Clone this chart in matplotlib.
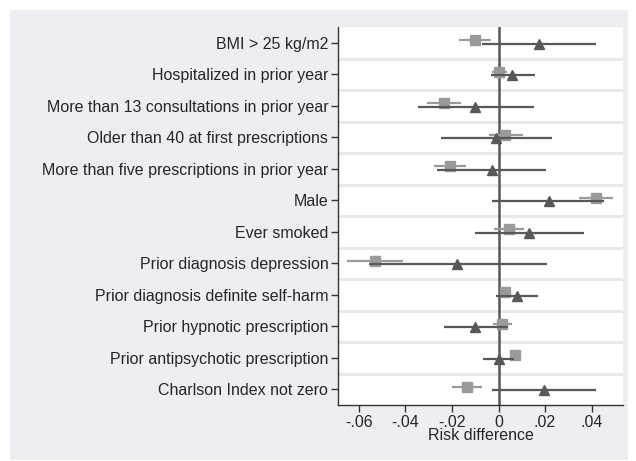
import numpy as np
from matplotlib import pyplot as plt
from matplotlib.patches import Rectangle

plt.rcParams['font.family'] = ['Liberation Sans', 'DejaVu Sans']

labels = ["BMI > 25 kg/m2",
          "Hospitalized in prior year",
          "More than 13 consultations in prior year",
          "Older than 40 at first prescriptions",
          "More than five prescriptions in prior year",
          "Male",
          "Ever smoked",
          "Prior diagnosis depression",
          "Prior diagnosis definite self-harm",
          "Prior hypnotic prescription",
          "Prior antipsychotic prescription",
          "Charlson Index not zero"]

# light grey squares
sq_est = [-0.010, 0.0004, -0.0235, 0.0029, -0.0209, 0.0419,
          0.0046, -0.0533, 0.0029, 0.0017, 0.0070, -0.0136]
sq_lo = [-0.0169, -0.0030, -0.0308, -0.0043, -0.0277, 0.0346,
         -0.0021, -0.0652, 0.0010, -0.0024, 0.0062, -0.0200]
sq_hi = [-0.0031, 0.0036, -0.0162, 0.0105, -0.0140, 0.0492,
         0.0110, -0.0411, 0.0050, 0.0058, 0.0078, -0.0071]

# dark grey triangles
tr_est = [0.0175, 0.0060, -0.0099, -0.0010, -0.0030, 0.0215,
          0.0132, -0.0178, 0.0079, -0.0099, 0.0002, 0.0197]
tr_lo = [-0.0070, -0.0033, -0.0348, -0.0248, -0.0265, -0.0026,
         -0.0100, -0.0555, -0.0010, -0.0235, -0.0067, -0.0029]
tr_hi = [0.0417, 0.0155, 0.0154, 0.0228, 0.0205, 0.0455,
         0.0366, 0.0208, 0.0168, 0.0040, 0.0067, 0.0420]

xticks = [-0.06, -0.04, -0.02, 0, 0.02, 0.04]
xticklabels = ["-.06", "-.04", "-.02", "0", ".02", ".04"]

light = "#9a9a9a"
dark = "#585858"
txt = "#262626"

fig = plt.figure(figsize=(6.36, 4.61), dpi=100)
bg = Rectangle((10 / 636, 1 - 460 / 461), 618 / 636, 450 / 461,
               transform=fig.transFigure, facecolor="#eceef1",
               edgecolor="none", zorder=-5)
fig.add_artist(bg)
ax = fig.add_axes([338 / 636, 1 - 405 / 461, 285 / 636, 378 / 461])
ax.set_facecolor("white")

rows = np.arange(1, len(labels) + 1)

# gridlines between rows
for g in rows[:-1] + 0.5:
    ax.axhline(g, color="#e9e9e9", lw=2.2, zorder=1)

ax.axvline(0, color=dark, lw=1.8, zorder=2)

ax.hlines(rows - 0.08, sq_lo, sq_hi, color=light, lw=1.6, zorder=3)
ax.plot(sq_est, rows - 0.08, "s", color=light, ms=7.5, zorder=4)
ax.hlines(rows + 0.03, tr_lo, tr_hi, color=dark, lw=1.6, zorder=5)
ax.plot(tr_est, rows + 0.03, "^", color=dark, ms=7.5, zorder=6)

ax.set_xlim(-0.069, 0.0535)
ax.set_ylim(12.5, 0.5)
ax.set_yticks(rows)
ax.set_yticklabels(labels, fontsize=11.5, color=txt)
ax.set_xticks(xticks)
ax.set_xticklabels(xticklabels, fontsize=11.5, color=txt)
ax.set_xlabel("Risk difference", fontsize=11.5, color=txt, labelpad=-1)
ax.tick_params(direction="out", length=5, width=1, color="#333333", pad=2)

for s in ["top", "right"]:
    ax.spines[s].set_visible(False)
for s in ["left", "bottom"]:
    ax.spines[s].set_color("#333333")
    ax.spines[s].set_linewidth(1)

plt.savefig("out.png", dpi=100)
